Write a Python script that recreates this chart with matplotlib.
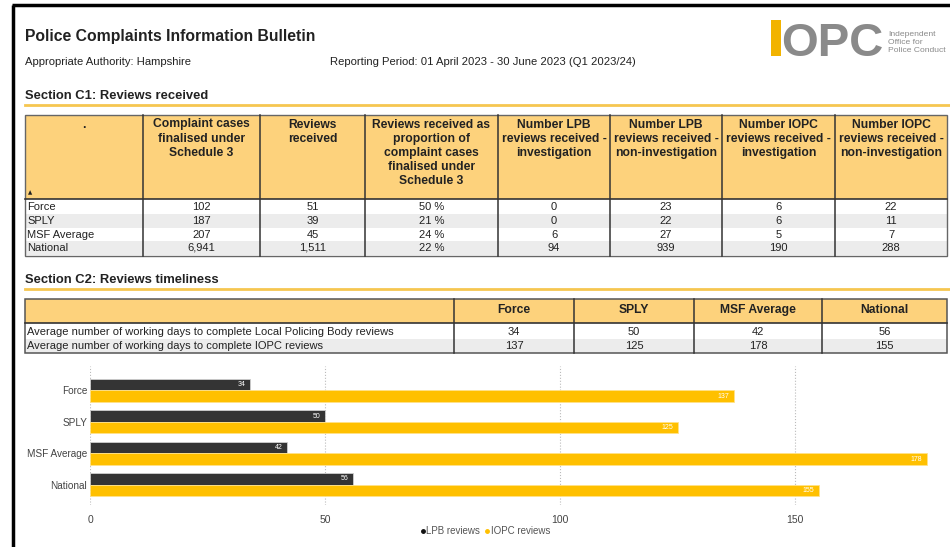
import matplotlib.pyplot as plt
from matplotlib.patches import Rectangle
from matplotlib.lines import Line2D

plt.rcParams["font.family"] = ["Liberation Sans", "DejaVu Sans"]

# ---- data ----
groups = ["Force", "SPLY", "MSF Average", "National"]

c1_headers = [
    ".",
    "Complaint cases\nfinalised under\nSchedule 3",
    "Reviews\nreceived",
    "Reviews received as\nproportion of\ncomplaint cases\nfinalised under\nSchedule 3",
    "Number LPB\nreviews received -\ninvestigation",
    "Number LPB\nreviews received -\nnon-investigation",
    "Number IOPC\nreviews received -\ninvestigation",
    "Number IOPC\nreviews received -\nnon-investigation",
]
cases_finalised = ["102", "187", "207", "6,941"]
reviews_received = ["51", "39", "45", "1,511"]
review_proportion = ["50 %", "21 %", "24 %", "22 %"]
lpb_investigation = ["0", "0", "6", "94"]
lpb_non_investigation = ["23", "22", "27", "939"]
iopc_investigation = ["6", "6", "5", "190"]
iopc_non_investigation = ["22", "11", "7", "288"]

c2_rows = [
    "Average number of working days to complete Local Policing Body reviews",
    "Average number of working days to complete IOPC reviews",
]
lpb_days = [34, 50, 42, 56]
iopc_days = [137, 125, 178, 155]
x_ticks = [0, 50, 100, 150]

# ---- style ----
W, H = 950, 547
YEL_HEAD = "#fdd27c"
YEL_LINE = "#f6c650"
YEL_BAR = "#ffc000"
DARK_BAR = "#343434"
ALT_ROW = "#ececec"
TXT = "#222222"
GRID_DARK = "#333333"

fig = plt.figure(figsize=(W / 100, H / 100), dpi=100)
ax = fig.add_axes([0, 0, 1, 1])
ax.set_xlim(0, W)
ax.set_ylim(H, 0)
ax.axis("off")

# frame of the screenshot
ax.plot([12, W], [5, 5], color="black", lw=2.5, solid_capstyle="butt")
ax.plot([13, 13], [5, H], color="black", lw=2.5, solid_capstyle="butt")

# heading
ax.text(25, 36, "Police Complaints Information Bulletin", fontsize=11.3,
        fontweight="bold", color=TXT, va="center")
ax.text(25, 62, "Appropriate Authority: Hampshire", fontsize=8.1,
        color=TXT, va="center")
ax.text(330, 62, "Reporting Period: 01 April 2023 - 30 June 2023 (Q1 2023/24)",
        fontsize=8.1, color=TXT, va="center")

# logo
ax.add_patch(Rectangle((771, 20), 10, 36, color="#f2b300", lw=0))
ax.text(781, 56, "OPC", fontsize=34, fontweight="bold", color="#8a8a8a",
        va="baseline", ha="left")
for i, s in enumerate(["Independent", "Office for", "Police Conduct"]):
    ax.text(888, 34 + i * 8.5, s, fontsize=6.1, color="#8a8a8a", va="center")


def section(y, title):
    ax.text(25, y, title, fontsize=9.4, fontweight="bold", color=TXT, va="center")
    ax.plot([25, W], [y + 9, y + 9], color=YEL_LINE, lw=2)


# ---- Section C1 ----
section(96, "Section C1: Reviews received")
cols = [25, 143, 260, 365, 498, 610, 722, 835, 947]
top, head_bot, bot = 115, 199, 256
row_y = [207, 221, 235, 248]

ax.add_patch(Rectangle((cols[0], top), cols[-1] - cols[0], head_bot - top,
                       facecolor=YEL_HEAD, lw=0))
for i, y in enumerate(row_y):
    if i % 2 == 1:
        ax.add_patch(Rectangle((cols[0], y - 7), cols[-1] - cols[0], 14,
                               facecolor=ALT_ROW, lw=0))
ax.add_patch(Rectangle((cols[0], top), cols[-1] - cols[0], bot - top,
                       facecolor="none", edgecolor="#666666", lw=1))
ax.plot([cols[0], cols[-1]], [head_bot, head_bot], color=GRID_DARK, lw=1.2)
for x in cols[1:-1]:
    ax.plot([x, x], [top, bot], color=GRID_DARK, lw=1.1)

for j, h in enumerate(c1_headers):
    cx = (cols[j] + cols[j + 1]) / 2
    ax.text(cx, 118.5, h, fontsize=8.7, fontweight="bold", color=TXT,
            ha="center", va="top", linespacing=1.25)
ax.text(28, 193, "\u25b2", fontsize=4, color=TXT, va="center",
        family="DejaVu Sans")

c1_columns = [cases_finalised, reviews_received, review_proportion,
              lpb_investigation, lpb_non_investigation,
              iopc_investigation, iopc_non_investigation]
for i, y in enumerate(row_y):
    ax.text(27, y, groups[i], fontsize=8, color=TXT, va="center")
    for j, col in enumerate(c1_columns):
        cx = (cols[j + 1] + cols[j + 2]) / 2
        ax.text(cx, y, col[i], fontsize=8, color=TXT, ha="center", va="center")

# ---- Section C2 ----
section(280, "Section C2: Reviews timeliness")
cols2 = [25, 454, 574, 694, 822, 947]
top2, head2, bot2 = 299, 323, 353
row2_y = [332, 346]

ax.add_patch(Rectangle((cols2[0], top2), cols2[-1] - cols2[0], head2 - top2,
                       facecolor=YEL_HEAD, lw=0))
ax.add_patch(Rectangle((cols2[0], row2_y[1] - 7), cols2[-1] - cols2[0], 14,
                       facecolor=ALT_ROW, lw=0))
ax.add_patch(Rectangle((cols2[0], top2), cols2[-1] - cols2[0], bot2 - top2,
                       facecolor="none", edgecolor="#555555", lw=1.1))
ax.plot([cols2[0], cols2[-1]], [head2, head2], color=GRID_DARK, lw=1.2)
for x in cols2[1:-1]:
    ax.plot([x, x], [top2, bot2], color=GRID_DARK, lw=1.1)
for j, g in enumerate(groups):
    cx = (cols2[j + 1] + cols2[j + 2]) / 2
    ax.text(cx, 310, g, fontsize=8.7, fontweight="bold", color=TXT,
            ha="center", va="center")
for i, (label, vals) in enumerate(zip(c2_rows, [lpb_days, iopc_days])):
    ax.text(27, row2_y[i], label, fontsize=8, color=TXT, va="center")
    for j, v in enumerate(vals):
        cx = (cols2[j + 1] + cols2[j + 2]) / 2
        ax.text(cx, row2_y[i], str(v), fontsize=8, color=TXT,
                ha="center", va="center")

# ---- bar chart ----
bx0, bx1, by0, by1 = 90, 940, 366, 505
bax = fig.add_axes([bx0 / W, 1 - by1 / H, (bx1 - bx0) / W, (by1 - by0) / H])
pos = list(range(len(groups)))
bh = 0.37
b1 = bax.barh([p - bh / 2 for p in pos], lpb_days, height=bh, color=DARK_BAR,
              edgecolor="#cfcfcf", lw=0.6, zorder=3)
b2 = bax.barh([p + bh / 2 for p in pos], iopc_days, height=bh, color=YEL_BAR,
              edgecolor="#ffe28a", lw=0.6, zorder=3)
for bars, vals in [(b1, lpb_days), (b2, iopc_days)]:
    for rect, v in zip(bars, vals):
        bax.text(v - 1, rect.get_y() + rect.get_height() / 2, str(v),
                 fontsize=5, color="white", ha="right", va="center", zorder=4)

bax.set_xlim(0, (bx1 - bx0) / 4.7)
bax.set_ylim(3.65, -0.78)
bax.set_yticks(pos)
bax.set_yticklabels(groups, fontsize=7.2, color="#444444")
bax.set_xticks(x_ticks)
bax.set_xticklabels([str(t) for t in x_ticks], fontsize=7.5, color="#444444")
bax.tick_params(length=0, axis="y", pad=2)
bax.tick_params(length=0, axis="x", pad=7)
for s in bax.spines.values():
    s.set_visible(False)
bax.grid(axis="x", color="#bbbbbb", ls=":", lw=0.8, zorder=0)
bax.set_facecolor("none")

handles = [
    Line2D([], [], ls="none", marker="o", ms=2.5, color="#111111", label="LPB reviews"),
    Line2D([], [], ls="none", marker="o", ms=2.5, color=YEL_BAR, label="IOPC reviews"),
]
bax.legend(handles=handles, loc="center", bbox_to_anchor=((485 - bx0) / (bx1 - bx0), -0.19),
           ncol=2, frameon=False, fontsize=7, handlelength=0.6, handletextpad=0.1,
           columnspacing=0.4, labelcolor="#555555")

fig.savefig("out.png", dpi=100)
